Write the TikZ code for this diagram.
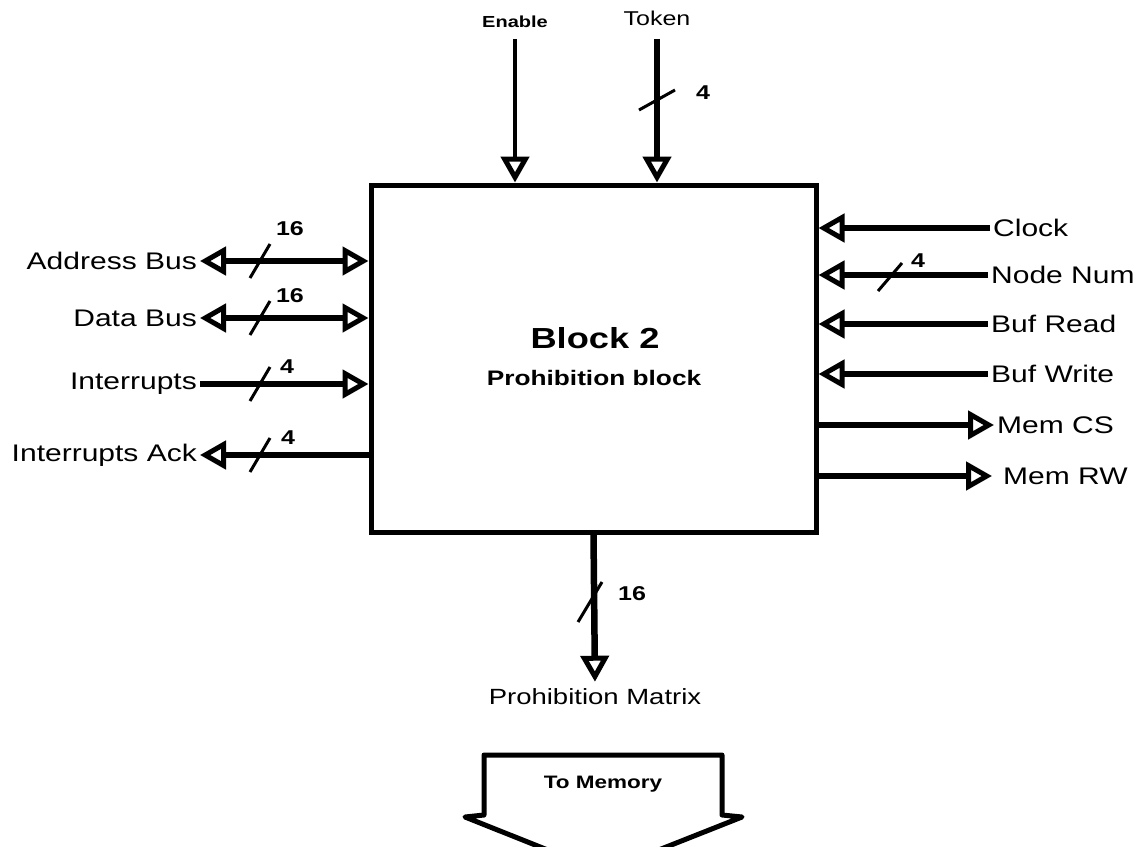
\documentclass[tikz,border=0pt]{standalone}
\usepackage{fontspec}
\setmainfont{Liberation Sans}[FakeStretch=1.25]
\usetikzlibrary{arrows.meta,positioning}

\begin{document}
\begin{tikzpicture}[x=1pt,y=-1pt,
  blockbox/.style={draw,line width=5pt,minimum width=445pt,minimum height=347pt},
  lbl/.style={font=\fontsize{24}{28}\selectfont,inner sep=3pt},
  num/.style={font=\bfseries\fontsize{20}{22}\selectfont,inner sep=0pt},
  bus/.style={line width=6.5pt},
  arr/.style={bus,-{Triangle[open,length=26pt,width=28pt,line width=5pt]}},
  dblarr/.style={bus,{Triangle[open,length=26pt,width=28pt,line width=5pt]}-{Triangle[open,length=26pt,width=28pt,line width=5pt]}},
  tick/.style={line width=3pt}]
  \useasboundingbox (0,0) rectangle (1140,846);
  % the block
  \node[blockbox] (blk) at (593.5,358.5) {};
  \node[font=\bfseries\fontsize{29}{32}\selectfont] (ttl) at (595,338) {Block 2};
  \node[font=\bfseries\fontsize{21}{24}\selectfont] (sub) at (594,378) {Prohibition block};
  % top inputs
  \node[font=\bfseries\fontsize{16}{18}\selectfont] (en) at (515,22) {Enable};
  \node[font=\fontsize{20}{22}\selectfont] (tok) at (657,18) {Token};
  \draw[arr,line width=4.5pt,shorten <=8pt] (en.south) -- (en.south |- blk.north);
  \draw[arr,shorten <=10pt] (tok.south) -- (tok.south |- blk.north);
  \draw[tick] (657,100) +(-18,10) -- +(18,-10);
  \node[num] (ntok) at (703,93) {4};
  % left side
  \node[lbl,anchor=east] (addr) at (200,261) {Address Bus};
  \node[lbl,anchor=east] (data) at (200,318) {Data Bus};
  \node[lbl,anchor=east] (intr) at (200,384) {Interrupts};
  \node[lbl,anchor=east] (iack) at (200,455) {Interrupts Ack};
  \draw[dblarr] (addr.east) -- (addr -| blk.west);
  \draw[dblarr] (data.east) -- (data -| blk.west);
  \draw[arr] (intr.east) -- (intr -| blk.west);
  \draw[arr] (iack -| blk.west) -- (iack.east);
  \draw[tick] (260,261) +(-10,17) -- +(10,-17);
  \draw[tick] (260,318) +(-10,17) -- +(10,-17);
  \draw[tick] (260,384) +(-10,17) -- +(10,-17);
  \draw[tick] (260,455) +(-10,17) -- +(10,-17);
  \node[num] (n1) at (290,229) {16};
  \node[num] (n2) at (290,296) {16};
  \node[num] (n3) at (287,367) {4};
  \node[num] (n4) at (288,438) {4};
  % right side
  \node[lbl,anchor=west] (clk) at (990,228) {Clock};
  \node[lbl,anchor=west] (nnum) at (988,275) {Node Num};
  \node[lbl,anchor=west] (bufr) at (988,324) {Buf Read};
  \node[lbl,anchor=west] (bufw) at (988,374) {Buf Write};
  \node[lbl,anchor=west] (mcs) at (994,425) {Mem CS};
  \node[lbl,anchor=west] (mrw) at (1000,476) {Mem RW};
  \draw[arr] (clk.west) -- (clk -| blk.east);
  \draw[arr] (nnum.west) -- (nnum -| blk.east);
  \draw[arr] (bufr.west) -- (bufr -| blk.east);
  \draw[arr] (bufw.west) -- (bufw -| blk.east);
  \draw[arr] (mcs -| blk.east) -- (mcs.west);
  \draw[arr] (mrw -| blk.east) -- ([xshift=-8pt]mrw.west);
  \draw[tick] (890,277) +(-12,14) -- +(12,-14);
  \node[num] (n5) at (918,261) {4};
  % bottom output
  \node[lbl,font=\fontsize{22}{26}\selectfont] (pm) at (595,697) {Prohibition Matrix};
  \draw[arr,shorten >=4pt] (blk.south) -- (pm.north);
  \draw[tick] (590,602) +(-12,20) -- +(12,-20);
  \node[num] (n6) at (632,594) {16};
  % to memory
  \node[font=\bfseries\fontsize{18}{20}\selectfont] (mem) at (603,784) {To Memory};
  \draw[line width=5pt,line join=round] (484,755) -- (722,755) -- (722,815) -- (742,817)
    -- (603,872) -- (465,817) -- (484,815) -- cycle;
\end{tikzpicture}
\end{document}
